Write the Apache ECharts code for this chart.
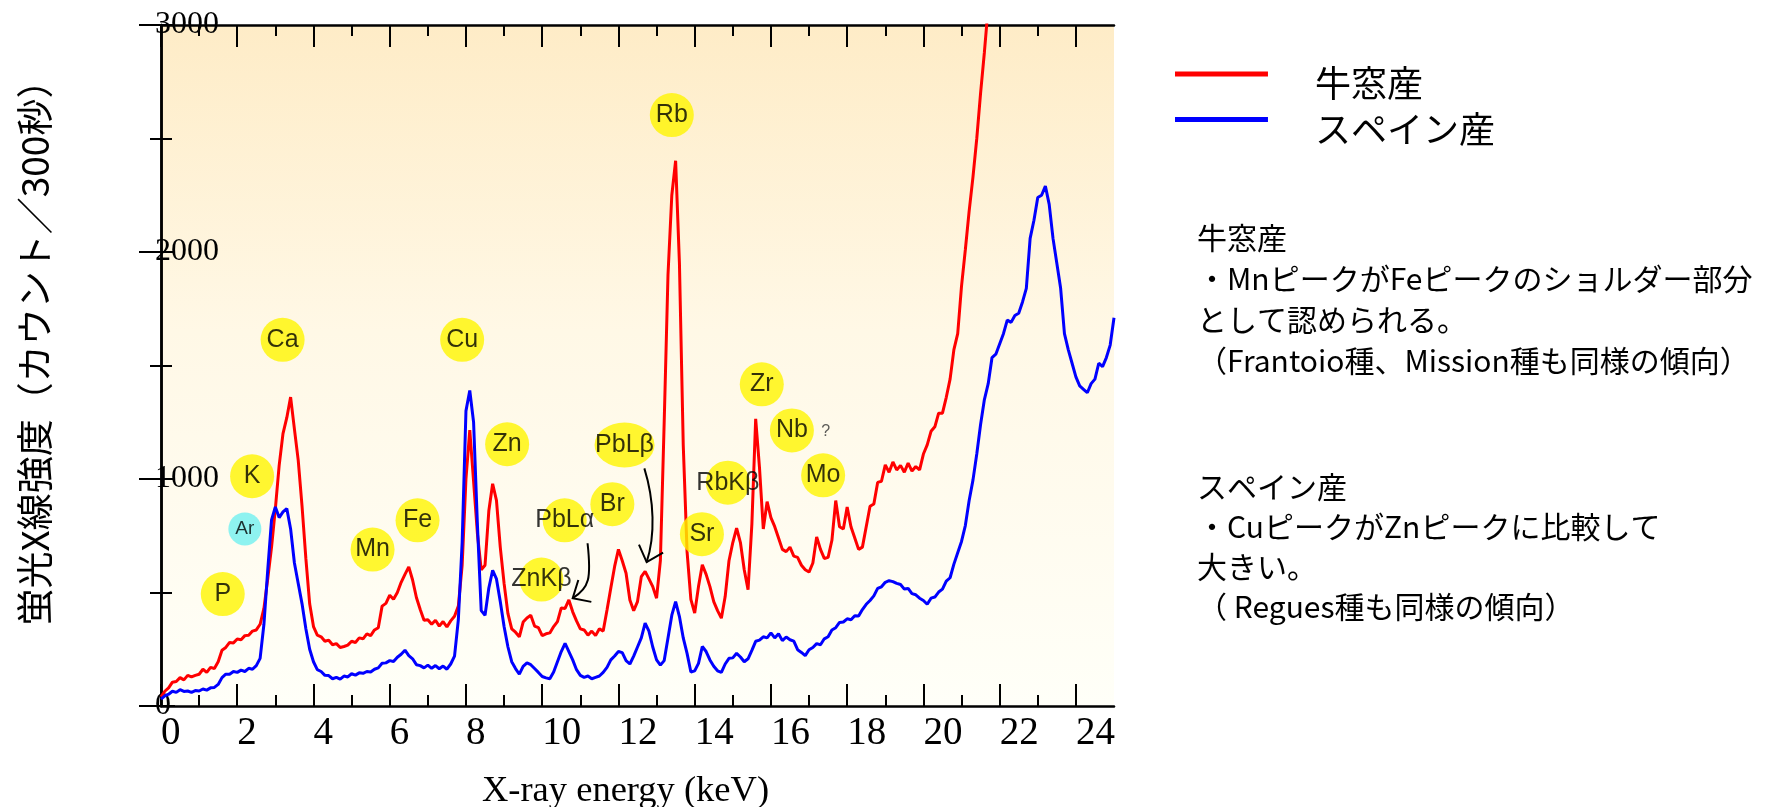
<!DOCTYPE html>
<html>
<head>
<meta charset="utf-8">
<script src="https://cdn.jsdelivr.net/npm/echarts@6/dist/echarts.min.js"></script>
<style>
  html, body { margin: 0; padding: 0; background: #fff; }
  #chart { width: 1768px; height: 807px; }
</style>
</head>
<body>
<div id="chart"></div>
<script>
// XRF spectra of olive samples, counts per 300 s, sampled every 0.1 keV
const countsUshimado = [
  40, 65, 80, 105, 108, 125, 115, 135, 128, 135,
  140, 162, 148, 170, 165, 195, 246, 258, 280, 278,
  295, 292, 310, 312, 330, 335, 360, 430, 560, 700,
  870, 1060, 1200, 1270, 1361, 1220, 1082, 880, 650, 450,
  350, 312, 305, 285, 290, 270, 275, 258, 262, 268,
  285, 280, 300, 296, 318, 310, 335, 345, 440, 452,
  488, 470, 500, 545, 580, 613, 555, 478, 425, 378,
  380, 360, 378, 352, 372, 348, 375, 395, 440, 620,
  1000, 1215, 990, 760, 600, 620, 860, 979, 906, 700,
  540, 408, 340, 325, 305, 370, 388, 400, 352, 345,
  310, 318, 322, 350, 372, 432, 430, 467, 415, 375,
  340, 335, 312, 330, 310, 340, 330, 423, 520, 615,
  690, 640, 585, 467, 420, 460, 570, 593, 560, 526,
  475, 640, 1250, 1900, 2250, 2402, 1950, 1150, 680, 470,
  409, 526, 622, 580, 526, 460, 420, 387, 482, 640,
  720, 784, 720, 600, 512, 800, 1265, 1050, 780, 900,
  830, 790, 740, 690, 680, 700, 660, 655, 620, 600,
  590, 630, 745, 690, 650, 655, 730, 905, 790, 780,
  877, 790, 740, 690, 700, 790, 880, 890, 985, 990,
  1062, 1030, 1075, 1040, 1060, 1030, 1070, 1035, 1055, 1040,
  1110, 1150, 1210, 1230, 1290, 1290, 1360, 1440, 1570, 1640,
  1850, 2010, 2180, 2330, 2500, 2700, 2880, 3080, 3300
];

const countsSpain = [
  30, 45, 52, 65, 60, 72, 64, 66, 60, 68,
  66, 75, 70, 80, 82, 95, 125, 140, 140, 152,
  148, 158, 152, 166, 162, 178, 210, 360, 600, 820,
  877, 830, 855, 870, 780, 630, 540, 450, 340, 250,
  195, 160, 152, 135, 134, 120, 126, 118, 132, 128,
  142, 136, 146, 144, 152, 150, 162, 168, 188, 190,
  200, 196, 215, 228, 246, 222, 208, 182, 178, 168,
  180, 166, 178, 164, 176, 162, 185, 220, 380, 720,
  1300, 1390, 1250, 800, 420, 400, 520, 598, 560, 460,
  350, 261, 195, 165, 140, 175, 190, 182, 165, 148,
  130, 124, 120, 150, 195, 240, 276, 240, 203, 160,
  135, 126, 132, 120, 126, 132, 148, 170, 203, 220,
  240, 235, 200, 185, 220, 260, 300, 365, 330, 260,
  203, 180, 200, 300, 400, 460, 394, 300, 232, 150,
  155, 188, 262, 240, 203, 175, 155, 148, 185, 210,
  212, 232, 216, 195, 208, 245, 285, 290, 305, 300,
  322, 300, 318, 288, 304, 292, 286, 248, 236, 222,
  248, 258, 275, 270, 296, 305, 335, 345, 368, 370,
  384, 380, 398, 396, 425, 448, 465, 485, 518, 525,
  545, 552, 548, 540, 535, 515, 518, 495, 490, 475,
  465, 448, 475, 480, 502, 515, 550, 565, 625, 675,
  725, 795, 905, 995, 1110, 1240, 1350, 1420, 1535, 1550,
  1595, 1640, 1700, 1690, 1720, 1730, 1780, 1840, 2060, 2140,
  2240, 2250, 2290, 2210, 2060, 1950, 1840, 1640, 1570, 1510,
  1450, 1410, 1395, 1380, 1420, 1440, 1510, 1495, 1535, 1590,
  1710
];

// channel energies of the sampled spectra (keV)
const STEP_KEV = 0.1;
const energyKeV = countsSpain.map((_, i) => Math.round(i * STEP_KEV * 10) / 10);

const seriesNames = ['牛窓産', 'スペイン産'];

const xMajorTicks = [0, 2, 4, 6, 8, 10, 12, 14, 16, 18, 20, 22, 24];
const xMinorTicks = [1, 3, 5, 7, 9, 11, 13, 15, 17, 19, 21, 23];

// element peak markers (keV, counts)
const peakLabels = ['P', 'K', 'Ar', 'Ca', 'Mn', 'Fe', 'Cu', 'Zn', 'ZnKβ', 'PbLα', 'Br', 'PbLβ', 'Rb', 'Sr', 'RbKβ', 'Zr', 'Nb', '?', 'Mo'];
const peakKeV    = [1.62, 2.39, 2.20, 3.19, 5.55, 6.73, 7.90, 9.08, 9.98, 10.59, 11.84, 12.16, 13.40, 14.19, 14.87, 15.76, 16.55, 17.44, 17.37];
const peakCounts = [493, 1012, 780, 1613, 689, 818, 1613, 1153, 557, 818, 889, 1150, 2603, 757, 984, 1417, 1214, 1211, 1016];

// pointer arrows: start, control 1, control 2, tip (keV, counts)
const arrowPaths = [
  [11.19, 717, 11.29, 563, 11.24, 519, 10.80, 475],
  [12.68, 1047, 12.94, 906, 12.97, 752, 12.74, 634]
];

const noteUshimado = ['牛窓産', '・MnピークがFeピークのショルダー部分', 'として認められる。', '（Frantoio種、Mission種も同様の傾向）'];
const noteSpain = ['スペイン産', '・CuピークがZnピークに比較して', '大きい。', '（ Regues種も同様の傾向）'];

const SERIF = '"Liberation Serif", "Times New Roman", serif';
const SANS = '"Liberation Sans", Arial, sans-serif';
const JP = '"Noto Sans CJK JP", "Noto Sans", sans-serif';
const YELLOW = '#FFF500';

const ushimadoData = countsUshimado.map((c, i) => [energyKeV[i], c]);
const spainData = countsSpain.map((c, i) => [energyKeV[i], c]);

function markerItem(name, i) {
  let size = [44, 44], color = YELLOW, fontSize = 25, labelColor = '#000';
  if (name === 'Ar') { size = [33, 33]; color = '#72F0F0'; fontSize = 19; }
  if (name === 'PbLβ') { size = [60, 45]; }
  if (name === '?') { size = 1; color = 'rgba(0,0,0,0)'; fontSize = 16; labelColor = '#333'; }
  return {
    value: [peakKeV[i], peakCounts[i]],
    name: name,
    symbolSize: size,
    itemStyle: { color: color },
    label: { fontSize: fontSize, color: labelColor }
  };
}

function renderArrow(params, api) {
  const p0 = api.coord([api.value(0), api.value(1)]);
  const p1 = api.coord([api.value(2), api.value(3)]);
  const p2 = api.coord([api.value(4), api.value(5)]);
  const p3 = api.coord([api.value(6), api.value(7)]);
  const dx = p3[0] - p2[0], dy = p3[1] - p2[1];
  const len = Math.hypot(dx, dy) || 1;
  const ux = -dx / len, uy = -dy / len;
  const ang = 42 * Math.PI / 180, L = 19;
  const wing = (a) => [
    p3[0] + L * (ux * Math.cos(a) - uy * Math.sin(a)),
    p3[1] + L * (ux * Math.sin(a) + uy * Math.cos(a))
  ];
  const lineStyle = { stroke: '#000', lineWidth: 2, fill: null };
  return {
    type: 'group',
    children: [
      { type: 'bezierCurve', shape: { x1: p0[0], y1: p0[1], cpx1: p1[0], cpy1: p1[1], cpx2: p2[0], cpy2: p2[1], x2: p3[0], y2: p3[1] }, style: lineStyle },
      { type: 'polyline', shape: { points: [wing(ang), p3, wing(-ang)] }, style: lineStyle }
    ]
  };
}

// legend swatch: a 5px bar at the top of a 24px tall box, so the name sits just below the bar
const LEGEND_ICON = 'path://M0,0H93V5H0Z M0,24h0.01v0.01h-0.01Z';
function legendFor(name, top) {
  return {
    data: [name],
    left: 1175, top: top,
    padding: 0,
    itemWidth: 93, itemHeight: 24,
    icon: LEGEND_ICON,
    selectedMode: false,
    textStyle: { fontFamily: JP, fontSize: 36, color: '#000', padding: [0, 0, 0, 42] }
  };
}

const axisLineStyle = { show: true, lineStyle: { color: '#000', width: 2.5 } };
const baseX = { type: 'value', min: 0, max: 25, splitLine: { show: false } };

const option = {
  animation: false,
  backgroundColor: '#fff',
  grid: {
    left: 161, top: 25, width: 953, height: 681,
    outerBoundsMode: 'none',
    show: true, borderWidth: 0,
    backgroundColor: {
      type: 'linear', x: 0, y: 0, x2: 0, y2: 1,
      colorStops: [
        { offset: 0, color: '#FEECC7' },
        { offset: 0.45, color: '#FFF8E6' },
        { offset: 1, color: '#FFFFF8' }
      ]
    }
  },
  legend: [legendFor(seriesNames[0], 65.5), legendFor(seriesNames[1], 111)],
  xAxis: [
    Object.assign({}, baseX, {
      position: 'bottom',
      axisLine: axisLineStyle,
      axisTick: { show: true, inside: true, length: 22, customValues: xMajorTicks, lineStyle: { color: '#000', width: 2 } },
      axisLabel: { customValues: xMajorTicks, align: 'left', margin: 8, fontFamily: SERIF, fontSize: 39, color: '#000' },
      name: 'X-ray energy (keV)',
      nameLocation: 'middle',
      nameGap: 67,
      nameTextStyle: { fontFamily: SERIF, fontSize: 36.5, color: '#000', padding: [0, 24, 0, 0] }
    }),
    Object.assign({}, baseX, {
      position: 'bottom',
      axisLine: { show: false },
      axisTick: { show: true, inside: true, length: 11, customValues: xMinorTicks, lineStyle: { color: '#000', width: 2 } },
      axisLabel: { show: false }
    }),
    Object.assign({}, baseX, {
      position: 'top',
      axisLine: axisLineStyle,
      axisTick: { show: true, inside: true, length: 22, customValues: xMajorTicks, lineStyle: { color: '#000', width: 2 } },
      axisLabel: { show: false }
    }),
    Object.assign({}, baseX, {
      position: 'top',
      axisLine: { show: false },
      axisTick: { show: true, inside: true, length: 11, customValues: xMinorTicks, lineStyle: { color: '#000', width: 2 } },
      axisLabel: { show: false }
    })
  ],
  yAxis: [
    {
      type: 'value', min: 0, max: 3000, interval: 1000,
      position: 'left',
      splitLine: { show: false },
      axisLine: axisLineStyle,
      axisTick: { show: true, inside: true, length: 14, lineStyle: { color: '#000', width: 2 } },
      minorTick: { show: true, splitNumber: 2, length: 11, lineStyle: { color: '#000', width: 2 } },
      axisLabel: { inside: true, align: 'left', margin: -6, fontFamily: SERIF, fontSize: 32, color: '#000', formatter: (v) => String(v) },
      name: '蛍光X線強度（カウント／300秒）',
      nameLocation: 'middle',
      nameRotate: 90,
      nameGap: 108,
      nameTextStyle: { fontFamily: JP, fontSize: 37, color: '#000', padding: [0, 0, 0, 44] }
    },
    {
      type: 'value', min: 0, max: 3000, interval: 1000,
      position: 'right',
      splitLine: { show: false },
      axisLine: axisLineStyle,
      axisTick: { show: true, inside: true, length: 22, lineStyle: { color: '#000', width: 2 } },
      minorTick: { show: true, splitNumber: 2, length: 11, lineStyle: { color: '#000', width: 2 } },
      axisLabel: { show: false }
    }
  ],
  series: [
    {
      name: seriesNames[0], type: 'line', data: ushimadoData,
      xAxisIndex: 0, yAxisIndex: 0,
      showSymbol: false, clip: true,
      color: '#FF0000',
      lineStyle: { color: '#FF0000', width: 3 },
      z: 3
    },
    {
      name: seriesNames[1], type: 'line', data: spainData,
      xAxisIndex: 0, yAxisIndex: 0,
      showSymbol: false, clip: true,
      color: '#0000FF',
      lineStyle: { color: '#0000FF', width: 3 },
      z: 4
    },
    {
      name: 'peaks', type: 'scatter',
      xAxisIndex: 0, yAxisIndex: 0,
      symbol: 'circle', silent: true, z: 6,
      data: peakLabels.map(markerItem),
      label: { show: true, position: 'inside', formatter: '{b}', fontFamily: SANS, color: '#000' }
    },
    {
      name: 'arrows', type: 'custom',
      xAxisIndex: 0, yAxisIndex: 0,
      silent: true, z: 7,
      renderItem: renderArrow,
      data: arrowPaths
    }
  ],
  graphic: [
    {
      type: 'text', left: 1197, top: 217,
      style: { text: noteUshimado.join('\n'), font: '30px ' + JP, lineHeight: 41, fill: '#000' }
    },
    {
      type: 'text', left: 1197, top: 467,
      style: { text: noteSpain.join('\n'), font: '30px ' + JP, lineHeight: 40, fill: '#000' }
    }
  ]
};

const chart = echarts.init(document.getElementById('chart'), null, { renderer: 'canvas' });
chart.setOption(option);
</script>
</body>
</html>
